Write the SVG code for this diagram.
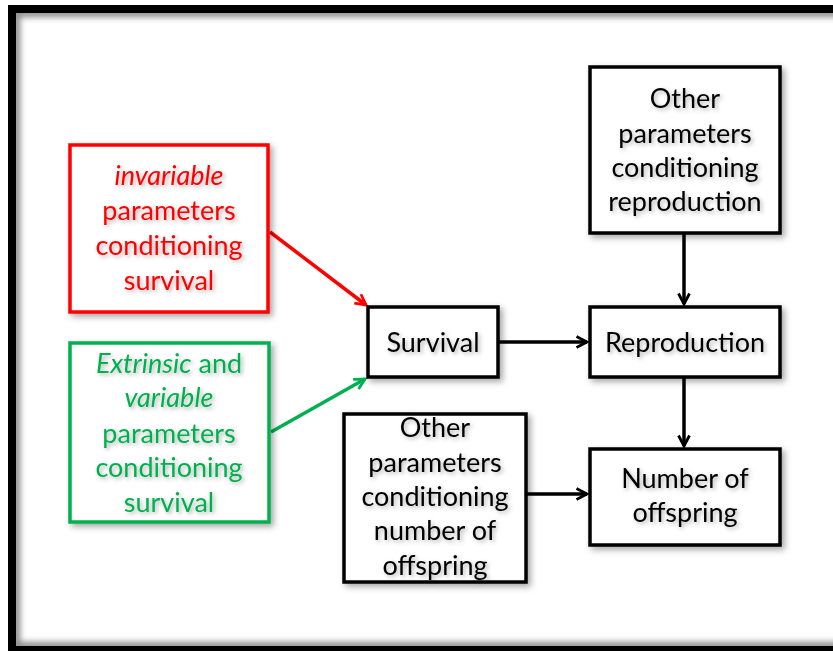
<svg xmlns="http://www.w3.org/2000/svg" width="833" height="651" viewBox="0 0 833 651">
  <defs>
    <filter id="shadow" x="-10%" y="-10%" width="130%" height="130%">
      <feDropShadow dx="3" dy="3" stdDeviation="3" flood-color="#000" flood-opacity="0.35"/>
    </filter>
    <filter id="tshadow" x="-10%" y="-20%" width="130%" height="150%">
      <feDropShadow dx="2" dy="2" stdDeviation="2" flood-color="#000" flood-opacity="0.3"/>
    </filter>
    <filter id="inner" x="-5%" y="-5%" width="110%" height="110%">
      <feGaussianBlur stdDeviation="3"/>
    </filter>
    <clipPath id="frameClip">
      <rect x="16" y="13" width="900" height="633"/>
    </clipPath>
    <marker id="arrBlack" viewBox="0 0 14 14" refX="12" refY="7" markerWidth="14" markerHeight="14" markerUnits="userSpaceOnUse" orient="auto">
      <path d="M1.5,1.5 L12,7 L1.5,12.5" fill="none" stroke="#000" stroke-width="2.8"/>
    </marker>
    <marker id="arrRed" viewBox="0 0 14 14" refX="12" refY="7" markerWidth="14" markerHeight="14" markerUnits="userSpaceOnUse" orient="auto">
      <path d="M1.5,1.5 L12,7 L1.5,12.5" fill="none" stroke="#FF0000" stroke-width="2.8"/>
    </marker>
    <marker id="arrGreen" viewBox="0 0 14 14" refX="12" refY="7" markerWidth="14" markerHeight="14" markerUnits="userSpaceOnUse" orient="auto">
      <path d="M1.5,1.5 L12,7 L1.5,12.5" fill="none" stroke="#00B050" stroke-width="2.8"/>
    </marker>
  </defs>
  <style>
    .box { fill: #fff; stroke: #000; stroke-width: 3.5; filter: url(#shadow); }
    .red { stroke: #FF0000; }
    .green { stroke: #00B050; }
    text { font-family: Lato, "Open Sans", "Liberation Sans", sans-serif; font-size: 27px; text-anchor: middle; fill: #000; }
    .lbl { filter: url(#tshadow); }
    .tr { fill: #FF0000; }
    .tg { fill: #00B050; }
    .it { font-style: italic; }
    .conn { fill: none; stroke-width: 3.5; }
  </style>

  <!-- page frame -->
  <rect x="0" y="0" width="833" height="651" fill="#fff"/>
  <g clip-path="url(#frameClip)">
    <rect x="16" y="13" width="900" height="633" fill="none" stroke="#888" stroke-width="8" filter="url(#inner)"/>
  </g>
  <rect x="12" y="9" width="900" height="641" fill="none" stroke="#000" stroke-width="8"/>

  <!-- connectors -->
  <g id="connectors">
    <line class="conn" x1="270" y1="232" x2="366" y2="305" stroke="#FF0000" marker-end="url(#arrRed)"/>
    <line class="conn" x1="271" y1="432" x2="365" y2="379" stroke="#00B050" marker-end="url(#arrGreen)"/>
    <line class="conn" x1="499" y1="342" x2="587" y2="342" stroke="#000" marker-end="url(#arrBlack)"/>
    <line class="conn" x1="684" y1="234" x2="684" y2="304" stroke="#000" marker-end="url(#arrBlack)"/>
    <line class="conn" x1="684" y1="378" x2="684" y2="446" stroke="#000" marker-end="url(#arrBlack)"/>
    <line class="conn" x1="527" y1="494" x2="587" y2="494" stroke="#000" marker-end="url(#arrBlack)"/>
  </g>

  <g id="invariable">
    <rect class="box red" x="70" y="145" width="198" height="167"/>
    <g class="lbl">
      <text class="tr it" x="169" y="185">invariable</text>
      <text class="tr" x="169" y="220">parameters</text>
      <text class="tr" x="169" y="255">conditioning</text>
      <text class="tr" x="169" y="290">survival</text>
    </g>
  </g>

  <g id="extrinsic">
    <rect class="box green" x="70" y="343" width="199" height="179"/>
    <g class="lbl">
      <text class="tg" x="169" y="373"><tspan class="it">Extrinsic</tspan> and</text>
      <text class="tg it" x="169" y="407">variable</text>
      <text class="tg" x="169" y="443">parameters</text>
      <text class="tg" x="169" y="477">conditioning</text>
      <text class="tg" x="169" y="512">survival</text>
    </g>
  </g>

  <g id="survival">
    <rect class="box" x="368" y="307" width="130" height="70"/>
    <text class="lbl" x="433" y="352">Survival</text>
  </g>

  <g id="reproduction">
    <rect class="box" x="590" y="307" width="190" height="70"/>
    <text class="lbl" x="685" y="352">Reproduction</text>
  </g>

  <g id="other-reproduction">
    <rect class="box" x="590" y="67" width="190" height="166"/>
    <g class="lbl">
      <text x="685" y="108">Other</text>
      <text x="685" y="143">parameters</text>
      <text x="685" y="177">conditioning</text>
      <text x="685" y="211">reproduction</text>
    </g>
  </g>

  <g id="other-offspring">
    <rect class="box" x="344" y="414" width="182" height="168"/>
    <g class="lbl">
      <text x="435" y="437">Other</text>
      <text x="435" y="472">parameters</text>
      <text x="435" y="506">conditioning</text>
      <text x="435" y="540">number of</text>
      <text x="435" y="575">offspring</text>
    </g>
  </g>

  <g id="offspring">
    <rect class="box" x="590" y="449" width="190" height="96"/>
    <g class="lbl">
      <text x="685" y="488">Number of</text>
      <text x="685" y="522">offspring</text>
    </g>
  </g>
</svg>
